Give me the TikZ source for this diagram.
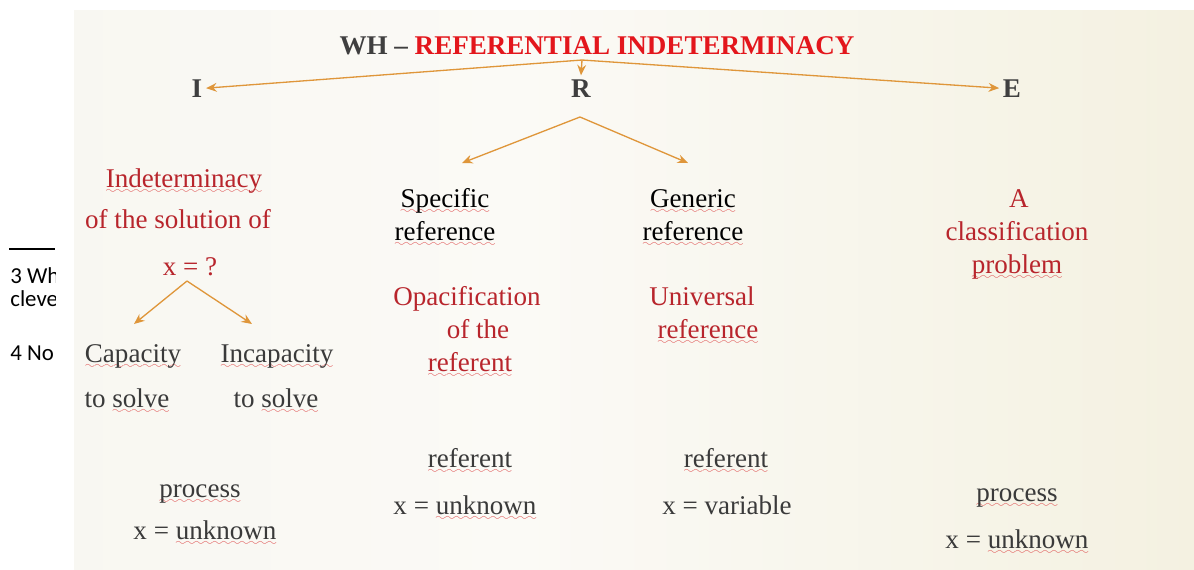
\documentclass[tikz,border=0pt]{standalone}
\usepackage{fontspec}
\setmainfont{Liberation Serif}
\newfontfamily\notefont{Carlito}
\usetikzlibrary{arrows.meta}
\definecolor{bgl}{HTML}{F5F4EC}
\definecolor{bgm}{HTML}{FBFAF6}
\definecolor{bgn}{HTML}{F4F1E1}
\definecolor{bgr}{HTML}{EDE9D0}
\definecolor{headgray}{HTML}{3F3F3F}
\definecolor{titlered}{HTML}{E3161C}
\definecolor{darkred}{HTML}{B8252C}
\definecolor{inkgray}{HTML}{3A3A3A}
\definecolor{arrowor}{HTML}{DF963A}
\definecolor{wavered}{HTML}{E05858}
\pgfdeclarehorizontalshading{slidebg}{100bp}{color(0bp)=(bgl); color(45bp)=(bgm); color(75bp)=(bgn); color(100bp)=(bgr)}
\font\wavefont=lasy6
\newbox\spellbox
\newcommand\spell[1]{\setbox\spellbox\hbox{#1}\rlap{\textcolor{wavered}{\lower3.5pt\hbox to\wd\spellbox{\xleaders\hbox{\wavefont\char58}\hfill}}}\box\spellbox}
\begin{document}
\begin{tikzpicture}[x=0.02cm,y=-0.02cm,>={Stealth[length=6pt,width=5pt]},
	txt/.style={font=\fontsize{15.4}{18}\selectfont, inner sep=0pt, anchor=base},
	redtxt/.style={txt, text=darkred},
	graytxt/.style={txt, text=inkgray},
	hd/.style={font=\fontsize{15.4}{18}\selectfont\bfseries, text=headgray, inner sep=2pt, anchor=base},
	note/.style={font=\notefont\fontsize{13}{15}\selectfont, inner sep=0pt, anchor=base west},
	arr/.style={->, draw=arrowor, line width=0.75pt}]
	% nen
	\fill[white] (0,0) rectangle (1194,569);
	\shade[shading=slidebg] (74,10) rectangle (1194,569);
	% chu thich ben trai
	\draw[line width=1pt] (9,249)--(55,249);
	\begin{scope}
		\clip (0,255) rectangle (55,375);
		\node[note] (fn3) at (10,283) {3 Wh};
		\node[note] (fn3b) at (10,306) {cleve};
		\node[note] (fn4) at (10,360) {4 No};
	\end{scope}
	% tieu de
	\node[hd] (title) at (597,54) {WH – \textcolor{titlered}{REFERENTIAL INDETERMINACY}};
	\node[hd] (I) at (197,97) {I};
	\node[hd] (R) at (581,97) {R};
	\node[hd] (E) at (1012,97) {E};
	\coordinate (top) at (582,60);
	\draw[arr] (top)--(I.east);
	\draw[arr] (top)--(R.north);
	\draw[arr] (top)--(E.west);
	% cot I
	\node[redtxt] (ind1) at (184,187) {\spell{Indeterminacy}};
	\node[redtxt] (ind2) at (178,228) {of the solution of};
	\node[redtxt] (ind3) at (190,275) {x = ?};
	\coordinate (xsplit) at (187,281);
	\coordinate (capTip) at (134,324);
	\coordinate (incTip) at (252,324);
	\draw[arr] (xsplit)--(capTip);
	\draw[arr] (xsplit)--(incTip);
	\node[graytxt] (cap1) at (133,362) {\spell{Capacity}};
	\node[graytxt] (cap2) at (127,407) {to \spell{solve}};
	\node[graytxt] (inc1) at (277,362) {\spell{Incapacity}};
	\node[graytxt] (inc2) at (276,407) {to \spell{solve}};
	\node[graytxt] (pl1) at (200,497) {\spell{process}};
	\node[graytxt] (pl2) at (205,539) {x = \spell{unknown}};
	% cot R
	\coordinate (rsplit) at (580,117);
	\coordinate (specTip) at (462,163);
	\coordinate (genTip) at (688,163);
	\draw[arr] (rsplit)--(specTip);
	\draw[arr] (rsplit)--(genTip);
	\node[txt] (spec1) at (445,207) {\spell{Specific}};
	\node[txt] (spec2) at (445,240) {\spell{reference}};
	\node[txt] (gen1) at (693,207) {\spell{Generic}};
	\node[txt] (gen2) at (693,240) {\spell{reference}};
	\node[redtxt] (opa1) at (467,305) {Opacification};
	\node[redtxt] (opa2) at (478,338) {of the};
	\node[redtxt] (opa3) at (470,371) {\spell{referent}};
	\node[redtxt] (uni1) at (702,305) {Universal};
	\node[redtxt] (uni2) at (708,338) {\spell{reference}};
	\node[graytxt] (rm1) at (470,467) {\spell{referent}};
	\node[graytxt] (rm2) at (465,514) {x = \spell{unknown}};
	\node[graytxt] (rg1) at (726,467) {\spell{referent}};
	\node[graytxt] (rg2) at (727,514) {x = variable};
	% cot E
	\node[redtxt] (cls1) at (1019,207) {A};
	\node[redtxt] (cls2) at (1017,240) {classification};
	\node[redtxt] (cls3) at (1017,273) {\spell{problem}};
	\node[graytxt] (pr1) at (1017,501) {\spell{process}};
	\node[graytxt] (pr2) at (1017,548) {x = \spell{unknown}};
\end{tikzpicture}
\end{document}
